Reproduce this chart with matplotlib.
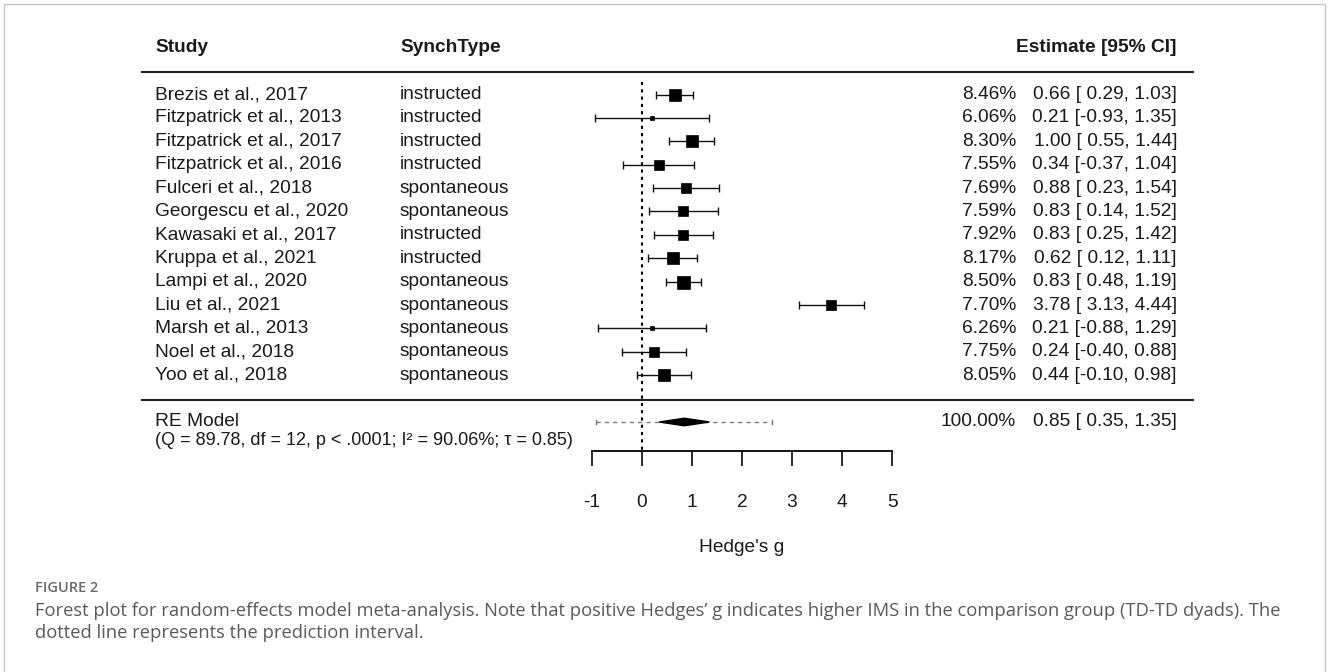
import numpy as np
import matplotlib
matplotlib.use("Agg")
import matplotlib.pyplot as plt
from matplotlib.patches import Polygon, Rectangle

# Veriler
studies = ["Brezis et al., 2017", "Fitzpatrick et al., 2013", "Fitzpatrick et al., 2017",
           "Fitzpatrick et al., 2016", "Fulceri et al., 2018", "Georgescu et al., 2020",
           "Kawasaki et al., 2017", "Kruppa et al., 2021", "Lampi et al., 2020",
           "Liu et al., 2021", "Marsh et al., 2013", "Noel et al., 2018", "Yoo et al., 2018"]
synch_type = ["instructed", "instructed", "instructed", "instructed", "spontaneous",
              "spontaneous", "instructed", "instructed", "spontaneous", "spontaneous",
              "spontaneous", "spontaneous", "spontaneous"]
weights = [8.46, 6.06, 8.30, 7.55, 7.69, 7.59, 7.92, 8.17, 8.50, 7.70, 6.26, 7.75, 8.05]
estimates = [0.66, 0.21, 1.00, 0.34, 0.88, 0.83, 0.83, 0.62, 0.83, 3.78, 0.21, 0.24, 0.44]
ci_lower = [0.29, -0.93, 0.55, -0.37, 0.23, 0.14, 0.25, 0.12, 0.48, 3.13, -0.88, -0.40, -0.10]
ci_upper = [1.03, 1.35, 1.44, 1.04, 1.54, 1.52, 1.42, 1.11, 1.19, 4.44, 1.29, 0.88, 0.98]

re_est, re_lo, re_hi = 0.85, 0.35, 1.35
pi_lo, pi_hi = -0.91, 2.61
re_stats = "(Q = 89.78, df = 12, p < .0001; I\u00b2 = 90.06%; \u03c4 = 0.85)"
x_ticks = [-1, 0, 1, 2, 3, 4, 5]

W, H = 1328, 672
FONT = "Liberation Sans"
FS = 13.8
INK = "#1a1a1a"

plt.rcParams["font.family"] = [FONT, "DejaVu Sans"]

fig = plt.figure(figsize=(W / 100, H / 100), dpi=100)
ax = fig.add_axes([0, 0, 1, 1])

# piksel -> veri eşlemesi (x: Hedge's g, y: satır)
X0, XS = 641.7, 50.1
Y0, YS = 94.5, 23.4
ax.set_xlim(-X0 / XS, (W - X0) / XS)
ax.set_ylim((H - Y0) / YS, -Y0 / YS)

def row(py):
    return (py - Y0) / YS

trans = ax.get_yaxis_transform()  # x: eksen oranı, y: veri
n = len(studies)
rows = np.arange(n)

# başlıklar
ax.text(155 / W, row(47), "Study", transform=trans, fontsize=FS, fontweight="bold", va="center", color=INK)
ax.text(400 / W, row(47), "SynchType", transform=trans, fontsize=FS, fontweight="bold", va="center", color=INK)
ax.text(1177 / W, row(47), "Estimate [95% CI]", transform=trans, fontsize=FS, fontweight="bold",
        va="center", ha="right", color=INK)

for yl in (row(72), row(400)):
    ax.plot([142 / W, 1193 / W], [yl, yl], transform=trans, color="#222222", lw=1.5)

# satırlar
for i in range(n):
    ax.text(155 / W, i, studies[i], transform=trans, fontsize=FS, va="center", color=INK)
    ax.text(400 / W, i, synch_type[i], transform=trans, fontsize=FS, va="center", color=INK)
    ax.text(1016 / W, i, f"{weights[i]:.2f}%", transform=trans, fontsize=FS, va="center",
            ha="right", color=INK)
    ax.text(1177 / W, i, f"{estimates[i]:.2f} [{ci_lower[i]:5.2f}, {ci_upper[i]:.2f}]",
            transform=trans, fontsize=FS, va="center", ha="right", color=INK)

# güven aralıkları ve kareler
est = np.array(estimates)
ax.errorbar(est, rows, xerr=[est - np.array(ci_lower), np.array(ci_upper) - est], fmt="none",
            ecolor="#111111", elinewidth=1.0, capsize=2.6, capthick=1.0)
w = np.array(weights)
size_px = 4 + (w - w.min()) / (w.max() - w.min()) * 9
for i in range(n):
    ax.plot(estimates[i], i, marker="s", ms=size_px[i] * 0.72, color="black", mec="black", mew=0.5)

# RE model
y_re = row(422)
ax.text(155 / W, y_re, "RE Model", transform=trans, fontsize=FS, va="center", color=INK)
ax.text(155 / W, row(441), re_stats, transform=trans, fontsize=13.0, va="center", color=INK)
ax.text(1016 / W, y_re, "100.00%", transform=trans, fontsize=FS, va="center", ha="right", color=INK)
ax.text(1177 / W, y_re, f"{re_est:.2f} [{re_lo:5.2f}, {re_hi:.2f}]", transform=trans,
        fontsize=FS, va="center", ha="right", color=INK)

ax.plot([pi_lo, pi_hi], [y_re, y_re], color="#7a7a7a", lw=1.0, ls=(0, (3, 3)), zorder=2)
ax.plot([pi_lo, pi_lo], [y_re - 0.1, y_re + 0.1], color="#7a7a7a", lw=1.0)
ax.plot([pi_hi, pi_hi], [y_re - 0.1, y_re + 0.1], color="#7a7a7a", lw=1.0)
dh = 3.8 / YS
ax.add_patch(Polygon([[re_lo, y_re], [re_est, y_re - dh], [re_hi, y_re], [re_est, y_re + dh]],
                     closed=True, color="black", zorder=4))

# sıfır çizgisi
y_axis = row(451)
ax.plot([0, 0], [row(82), y_axis], color="black", lw=1.5, ls=(0, (1.5, 2)), zorder=3)

# x ekseni
for s in ["left", "right", "top"]:
    ax.spines[s].set_visible(False)
ax.spines["bottom"].set_position(("data", y_axis))
ax.spines["bottom"].set_bounds(x_ticks[0], x_ticks[-1])
ax.spines["bottom"].set_linewidth(1.3)
ax.set_xticks(x_ticks)
ax.set_xticklabels([str(t) for t in x_ticks])
ax.tick_params(axis="x", direction="out", length=10.8, width=1.3, pad=20, labelsize=FS, colors=INK)
ax.set_yticks([])
ax.text(2, row(548), "Hedge's g", fontsize=FS, ha="center", va="center", color=INK)

# alt yazı
fig.text(35 / W, 1 - 588 / H, "FIGURE 2", family=["Open Sans", "DejaVu Sans"], fontweight="semibold",
         fontsize=10.5, color="#6a6a6a", va="center")
fig.text(35 / W, 1 - 611 / H,
         "Forest plot for random-effects model meta-analysis. Note that positive Hedges\u2019 g indicates "
         "higher IMS in the comparison group (TD-TD dyads). The",
         family=["Open Sans", "DejaVu Sans"], fontsize=13.2, color="#5a5a5a", va="center")
fig.text(35 / W, 1 - 633 / H, "dotted line represents the prediction interval.",
         family=["Open Sans", "DejaVu Sans"], fontsize=13.2, color="#5a5a5a", va="center")

fig.add_artist(Rectangle((4 / W, -0.05), 1321 / W, 1.05 - 4 / H, transform=fig.transFigure,
                         fill=False, edgecolor="#c8c8c8", lw=1.0))

plt.savefig("out.png", dpi=100)
